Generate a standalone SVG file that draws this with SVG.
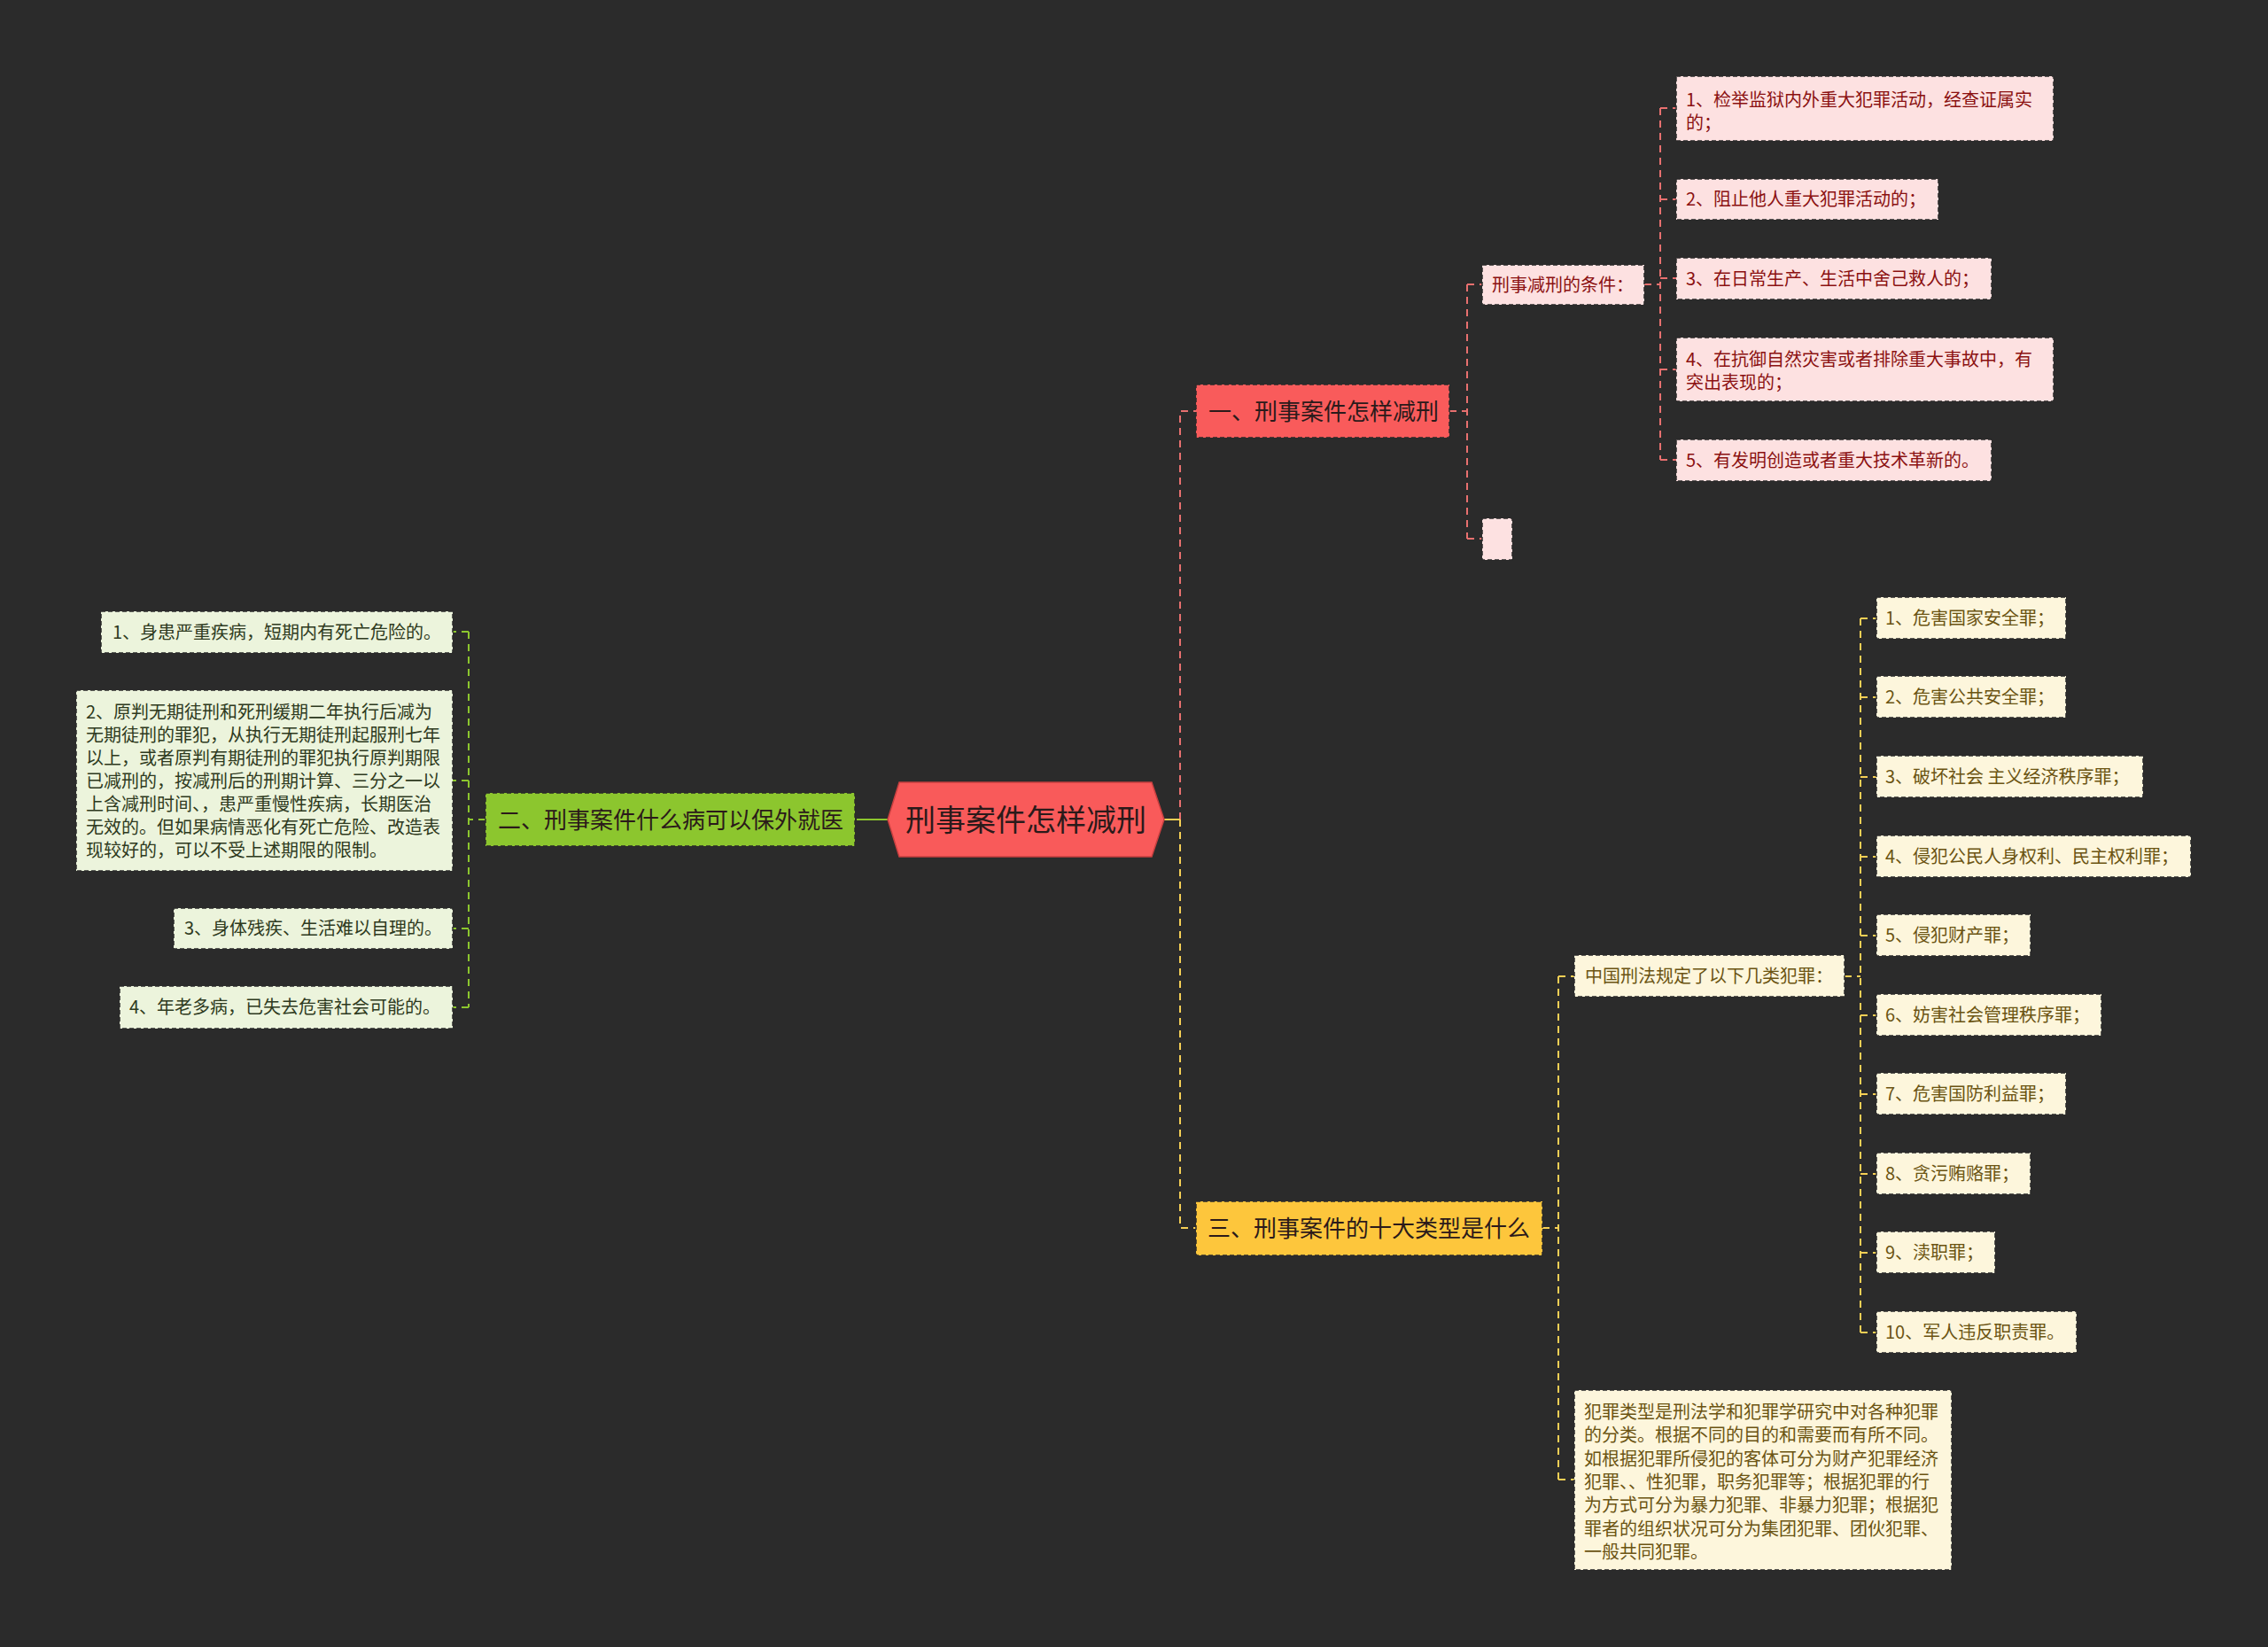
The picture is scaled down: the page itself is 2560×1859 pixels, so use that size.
<svg xmlns="http://www.w3.org/2000/svg" width="2560" height="1859" viewBox="0 0 2560 1859">
<style>
text{font-family:"Noto Sans CJK SC","Noto Sans",sans-serif;}
.c{fill:none;stroke-width:2;stroke-dasharray:8 6;}
.cr{stroke:#e8706f;}
.cg{stroke:#8cc62e;}
.cy{stroke:#f5cf55;}
.b{stroke:#2a2a2a;stroke-width:1.5;stroke-dasharray:5 3;}
.pk{fill:#fde1e1;}
.cm{fill:#fdf6dc;}
.gn{fill:#ecf4dc;}
.tp{fill:#8b1111;font-size:20px;}
.ty{fill:#6b5412;font-size:20px;}
.tg{fill:#2e3a20;font-size:20px;}
.tm{fill:#2b1a1a;font-size:26px;}
</style>
<rect width="2560" height="1859" fill="#2b2b2b"/>
<g id="connectors">
<path class="c cr" d="M1332,925 V464 H1350"/>
<path d="M1314,925 H1332" stroke="#f5cf55" stroke-width="2" fill="none"/>
<path class="c cy" d="M1332,925 V1386 H1350"/>
<path d="M967,925 H1002" stroke="#8cc62e" stroke-width="2" fill="none"/>
<path class="c cg" d="M548,925 H529"/>
<path class="c cg" d="M529,713 V1137"/>
<path class="c cg" d="M529,713 H511 M529,881 H511 M529,1048 H511 M529,1137 H511"/>
<path class="c cr" d="M1636,464 H1656"/>
<path class="c cr" d="M1656,321 V608"/>
<path class="c cr" d="M1656,321 H1673 M1656,608 H1673"/>
<path class="c cr" d="M1856,321 H1874"/>
<path class="c cr" d="M1874,122 V519"/>
<path class="c cr" d="M1874,122 H1892 M1874,225 H1892 M1874,314 H1892 M1874,417 H1892 M1874,519 H1892"/>
<path class="c cy" d="M1741,1386 H1759"/>
<path class="c cy" d="M1759,1102 V1670"/>
<path class="c cy" d="M1759,1102 H1777 M1759,1670 H1777"/>
<path class="c cy" d="M2082,1102 H2100"/>
<path class="c cy" d="M2100,698 V1504"/>
<path class="c cy" d="M2100,698 H2118 M2100,787 H2118 M2100,877 H2118 M2100,967 H2118 M2100,1056 H2118 M2100,1146 H2118 M2100,1235 H2118 M2100,1325 H2118 M2100,1414 H2118 M2100,1504 H2118"/>
</g>
<g id="root">
<polygon points="1002,925 1015,883 1300,883 1314,925 1300,967 1015,967" fill="#f95a5a" stroke="#c94040" stroke-width="1.5"/>
<text x="1158" y="938" font-size="34" fill="#2b1a1a" text-anchor="middle">刑事案件怎样减刑</text>
</g>
<g id="n1">
<rect x="1350" y="434" width="286" height="60" fill="#f95b5b" class="b"/>
<text class="tm" x="1364" y="474">一、刑事案件怎样减刑</text>
</g>
<g id="n2">
<rect x="548" y="895" width="417" height="60" fill="#8cc62e" class="b"/>
<text class="tm" x="562" y="935">二、刑事案件什么病可以保外就医</text>
</g>
<g id="n3">
<rect x="1350" y="1356" width="391" height="61" fill="#fdc63c" class="b"/>
<text class="tm" x="1363" y="1396">三、刑事案件的十大类型是什么</text>
</g>
<g id="n1a">
<rect x="1673" y="299" width="183" height="45" class="pk b"/>
<text class="tp" x="1684" y="329">刑事减刑的条件：</text>
</g>
<g id="n1b">
<rect x="1673" y="585" width="34" height="47" class="pk b"/>
</g>
<g id="p1">
<rect x="1892" y="86" width="426" height="73" class="pk b"/>
<text class="tp" x="1903" y="120">1、检举监狱内外重大犯罪活动，经查证属实</text>
<text class="tp" x="1903" y="146">的；</text>
</g>
<g id="p2">
<rect x="1892" y="202" width="296" height="46" class="pk b"/>
<text class="tp" x="1903" y="232">2、阻止他人重大犯罪活动的；</text>
</g>
<g id="p3">
<rect x="1892" y="291" width="356" height="47" class="pk b"/>
<text class="tp" x="1903" y="322">3、在日常生产、生活中舍己救人的；</text>
</g>
<g id="p4">
<rect x="1892" y="381" width="426" height="72" class="pk b"/>
<text class="tp" x="1903" y="413">4、在抗御自然灾害或者排除重大事故中，有</text>
<text class="tp" x="1903" y="439">突出表现的；</text>
</g>
<g id="p5">
<rect x="1892" y="496" width="356" height="47" class="pk b"/>
<text class="tp" x="1903" y="527">5、有发明创造或者重大技术革新的。</text>
</g>
<g id="g1">
<rect x="114" y="690" width="397" height="47" class="gn b"/>
<text class="tg" x="127" y="721">1、身患严重疾病，短期内有死亡危险的。</text>
</g>
<g id="g2">
<rect x="86" y="779" width="425" height="204" class="gn b"/>
<text class="tg" x="97" y="811">2、原判无期徒刑和死刑缓期二年执行后减为</text>
<text class="tg" x="97" y="837">无期徒刑的罪犯，从执行无期徒刑起服刑七年</text>
<text class="tg" x="97" y="863">以上，或者原判有期徒刑的罪犯执行原判期限</text>
<text class="tg" x="97" y="889">已减刑的，按减刑后的刑期计算、三分之一以</text>
<text class="tg" x="97" y="915">上含减刑时间、，患严重慢性疾病，长期医治</text>
<text class="tg" x="97" y="941">无效的。但如果病情恶化有死亡危险、改造表</text>
<text class="tg" x="97" y="967">现较好的，可以不受上述期限的限制。</text>
</g>
<g id="g3">
<rect x="196" y="1025" width="315" height="46" class="gn b"/>
<text class="tg" x="208" y="1055">3、身体残疾、生活难以自理的。</text>
</g>
<g id="g4">
<rect x="135" y="1113" width="376" height="48" class="gn b"/>
<text class="tg" x="146" y="1144">4、年老多病，已失去危害社会可能的。</text>
</g>
<g id="y0">
<rect x="1777" y="1078" width="305" height="47" class="cm b"/>
<text class="ty" x="1789" y="1109">中国刑法规定了以下几类犯罪：</text>
</g>
<g id="y1"><rect x="2118" y="674" width="214" height="47" class="cm b"/><text class="ty" x="2128" y="705">1、危害国家安全罪；</text></g>
<g id="y2"><rect x="2118" y="763" width="214" height="47" class="cm b"/><text class="ty" x="2128" y="794">2、危害公共安全罪；</text></g>
<g id="y3"><rect x="2118" y="853" width="301" height="47" class="cm b"/><text class="ty" x="2128" y="884">3、破坏社会 主义经济秩序罪；</text></g>
<g id="y4"><rect x="2118" y="943" width="355" height="47" class="cm b"/><text class="ty" x="2128" y="974">4、侵犯公民人身权利、民主权利罪；</text></g>
<g id="y5"><rect x="2118" y="1032" width="174" height="47" class="cm b"/><text class="ty" x="2128" y="1063">5、侵犯财产罪；</text></g>
<g id="y6"><rect x="2118" y="1122" width="254" height="47" class="cm b"/><text class="ty" x="2128" y="1153">6、妨害社会管理秩序罪；</text></g>
<g id="y7"><rect x="2118" y="1211" width="214" height="47" class="cm b"/><text class="ty" x="2128" y="1242">7、危害国防利益罪；</text></g>
<g id="y8"><rect x="2118" y="1301" width="174" height="47" class="cm b"/><text class="ty" x="2128" y="1332">8、贪污贿赂罪；</text></g>
<g id="y9"><rect x="2118" y="1390" width="134" height="47" class="cm b"/><text class="ty" x="2128" y="1421">9、渎职罪；</text></g>
<g id="y10"><rect x="2118" y="1480" width="226" height="47" class="cm b"/><text class="ty" x="2128" y="1511">10、军人违反职责罪。</text></g>
<g id="y11">
<rect x="1777" y="1569" width="426" height="203" class="cm b"/>
<text class="ty" x="1788" y="1601">犯罪类型是刑法学和犯罪学研究中对各种犯罪</text>
<text class="ty" x="1788" y="1627">的分类。根据不同的目的和需要而有所不同。</text>
<text class="ty" x="1788" y="1654">如根据犯罪所侵犯的客体可分为财产犯罪经济</text>
<text class="ty" x="1788" y="1680">犯罪、、性犯罪，职务犯罪等；根据犯罪的行</text>
<text class="ty" x="1788" y="1706">为方式可分为暴力犯罪、非暴力犯罪；根据犯</text>
<text class="ty" x="1788" y="1733">罪者的组织状况可分为集团犯罪、团伙犯罪、</text>
<text class="ty" x="1788" y="1759">一般共同犯罪。</text>
</g>
</svg>
